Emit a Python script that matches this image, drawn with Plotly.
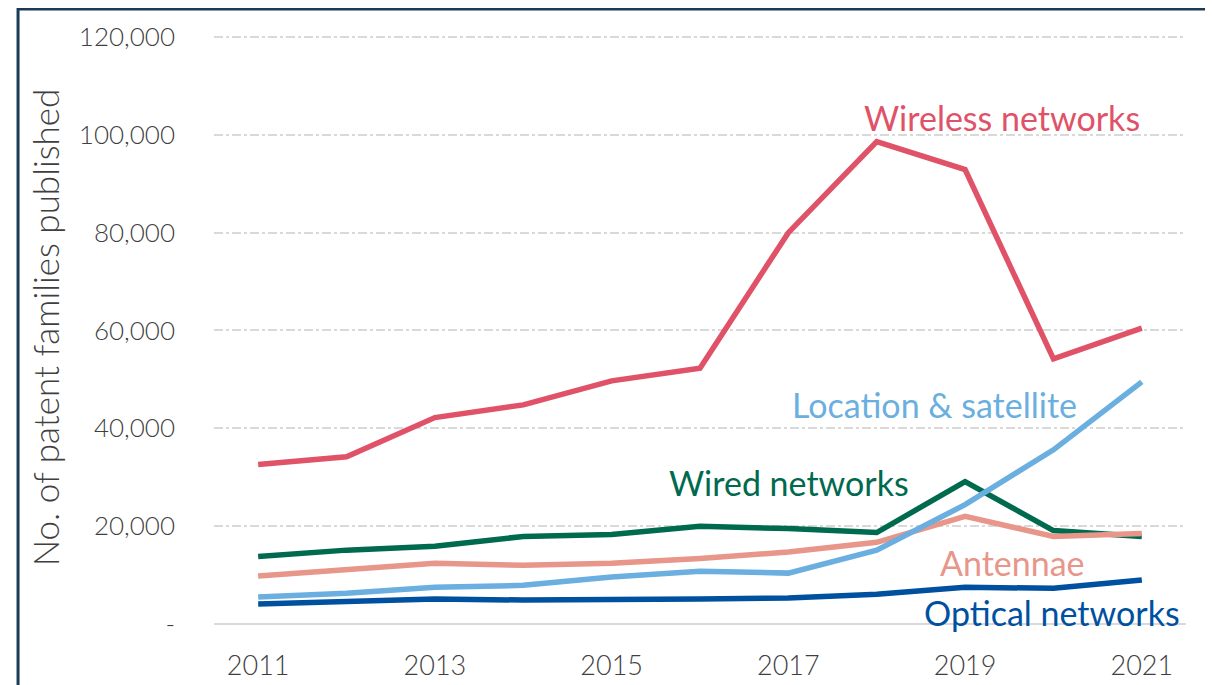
import plotly.graph_objects as go

years = list(range(2011, 2022))
wireless = [32600, 34200, 42200, 44800, 49700, 52300, 80000, 98600, 92900, 54200, 60500]
wired = [13800, 15100, 15900, 17900, 18300, 20000, 19500, 18700, 29100, 19100, 17900]
antennae = [9800, 11200, 12400, 12000, 12400, 13400, 14700, 16700, 22000, 17900, 18500]
location = [5500, 6300, 7500, 7900, 9600, 10800, 10400, 15100, 24400, 35600, 49500]
optical = [4100, 4500, 5100, 4900, 4900, 5100, 5300, 6100, 7500, 7300, 9000]

series = [
    ("Wireless networks", wireless, "#e05268", 2019.42, 103500),
    ("Wired networks", wired, "#006a4e", 2017.01, 28900),
    ("Antennae", antennae, "#e8958a", 2019.54, 12600),
    ("Location & satellite", location, "#6aafe0", 2018.65, 44800),
    ("Optical networks", optical, "#0050a0", 2019.98, 2300),
]

tickvals = [0, 20000, 40000, 60000, 80000, 100000, 120000]
ticktext = ["-", "20,000", "40,000", "60,000", "80,000", "100,000", "120,000"]
xticks = [2011, 2013, 2015, 2017, 2019, 2021]

FONT = "Lato"
fig = go.Figure()
for name, vals, color, lx, ly in series:
    fig.add_trace(go.Scatter(x=years, y=vals, mode="lines", name=name,
                             line=dict(color=color, width=5.5), showlegend=False))
    fig.add_annotation(x=lx, y=ly, text=name, showarrow=False,
                       font=dict(family=FONT, size=34, color=color),
                       xanchor="center", yanchor="middle")

fig.add_shape(type="rect", xref="paper", yref="paper",
              x0=-0.2016, x1=1.0216, y0=-0.3, y1=1.037,
              line=dict(color="#1b3a57", width=3), layer="above")

fig.update_layout(
    width=1213, height=685,
    margin=dict(l=206, r=35, t=22, b=68),
    paper_bgcolor="white", plot_bgcolor="white",
    font=dict(family=FONT, color="#3f3f3f"),
    xaxis=dict(range=[2010.5, 2021.5], tickvals=xticks,
               ticktext=[str(v) for v in xticks], showgrid=False,
               zeroline=False, showline=False,
               tickfont=dict(family=FONT, size=27, color="#3f3f3f", weight=300),
               ticks="", ticklabelstandoff=23),
    yaxis=dict(range=[0, 121222], tickvals=tickvals, ticktext=ticktext,
               showgrid=True, gridcolor="#d9d9d9", griddash="dashdot", gridwidth=1.5,
               zeroline=True, zerolinecolor="#d9d9d9", zerolinewidth=2,
               showline=False, ticks="",
               tickfont=dict(family=FONT, size=26, color="#3f3f3f", weight=300),
               ticklabelstandoff=38,
               title=dict(text="No. of patent families published",
                          font=dict(family=FONT, size=35, color="#3f3f3f", weight=300),
                          standoff=8)),
)

fig.write_html("out.html")
